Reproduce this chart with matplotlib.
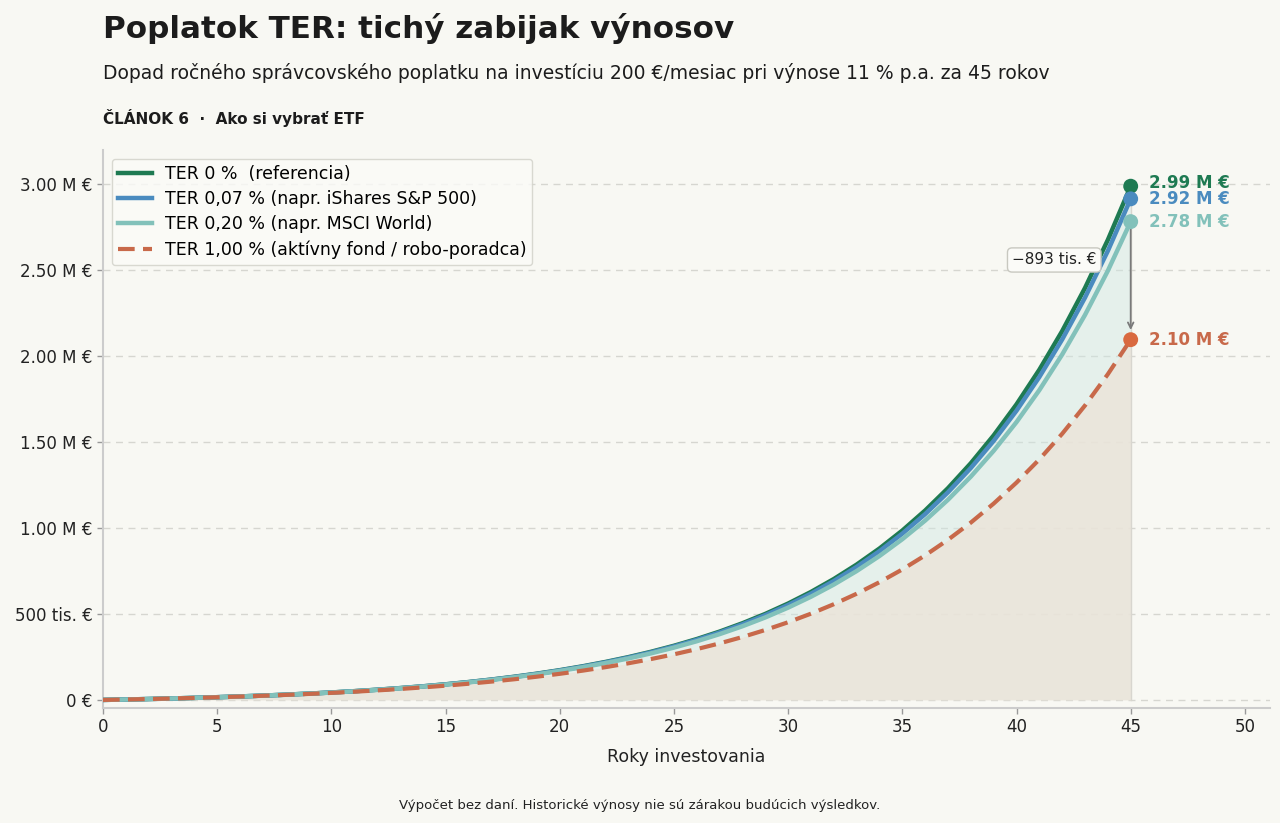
import matplotlib.pyplot as plt
from matplotlib.ticker import FuncFormatter

# hodnoty portfolia (tis. EUR) pre roky 0..45, odčítané z grafu
years = list(range(46))

ter_0 = [0, 2.5, 5.3, 8.5, 12.0, 15.9, 20.3, 25.1, 30.6, 36.6, 43.4,
         51.0, 59.4, 68.8, 79.2, 90.9, 104.0, 118.5, 134.8, 152.9, 173.1,
         195.7, 220.9, 248.9, 280.3, 315.2, 354.2, 397.7, 446.3, 500.5, 560.9,
         628.3, 703.5, 787.5, 881.1, 985.6, 1102.2, 1232.2, 1377.3, 1539.2, 1719.9,
         1921.4, 2146.3, 2397.2, 2677.1, 2989.3]
ter_007 = [0, 2.5, 5.3, 8.5, 12.0, 15.9, 20.2, 25.1, 30.5, 36.5, 43.2,
           50.7, 59.1, 68.4, 78.8, 90.4, 103.3, 117.7, 133.7, 151.6, 171.5,
           193.8, 218.6, 246.2, 277.0, 311.4, 349.7, 392.5, 440.1, 493.2, 552.4,
           618.4, 692.0, 774.1, 865.6, 967.6, 1081.4, 1208.2, 1349.6, 1507.3, 1683.0,
           1879.0, 2097.5, 2341.2, 2612.8, 2915.8]
ter_020 = [0, 2.5, 5.3, 8.5, 11.9, 15.8, 20.1, 24.9, 30.3, 36.3, 42.9,
           50.3, 58.5, 67.7, 77.9, 89.3, 101.9, 116.0, 131.7, 149.2, 168.6,
           190.3, 214.4, 241.3, 271.2, 304.5, 341.6, 382.9, 428.8, 480.0, 537.1,
           600.5, 671.2, 749.9, 837.6, 935.2, 1043.8, 1164.8, 1299.6, 1449.6, 1616.7,
           1802.7, 2009.9, 2240.4, 2497.4, 2783.3]
ter_100 = [0, 2.5, 5.3, 8.4, 11.7, 15.5, 19.6, 24.2, 29.2, 34.8, 41.0,
           47.8, 55.3, 63.6, 72.8, 82.9, 94.1, 106.5, 120.1, 135.2, 151.9,
           170.3, 190.6, 213.1, 237.9, 265.4, 295.7, 329.1, 366.1, 407.0, 452.1,
           501.9, 557.0, 617.9, 685.1, 759.3, 841.3, 931.9, 1032.0, 1142.6, 1264.7,
           1399.7, 1548.8, 1713.5, 1895.4, 2096.3]

labels = ['TER 0 %  (referencia)',
          'TER 0,07 % (napr. iShares S&P 500)',
          'TER 0,20 % (napr. MSCI World)',
          'TER 1,00 % (aktívny fond / robo-poradca)']
end_labels = ['2.99 M €', '2.92 M €', '2.78 M €', '2.10 M €']
gap_label = '−893 tis. €'

bg = '#f8f8f3'
c_green = '#1e7a52'
c_blue = '#4a8bbf'
c_teal = '#82c1ba'
c_orange = '#c8694a'
c_dot_orange = '#d9693f'

series = [[v * 1000 for v in s] for s in (ter_0, ter_007, ter_020, ter_100)]

fig = plt.figure(figsize=(12.8, 8.23), dpi=100, facecolor=bg)
ax = fig.add_axes([103 / 1280, 1 - 708 / 823, (1270 - 103) / 1280, (708 - 150) / 823])
ax.set_facecolor(bg)

# plochy
ax.fill_between(years, 0, series[3], color='#e9e4da', alpha=0.9, lw=0, zorder=1)
ax.fill_between(years, series[3], series[0], color='#cfe7e2', alpha=0.45, lw=0, zorder=1)

ax.plot(years, series[0], color=c_green, lw=3.2, label=labels[0], zorder=4)
ax.plot(years, series[1], color=c_blue, lw=3.2, label=labels[1], zorder=4)
ax.plot(years, series[2], color=c_teal, lw=3.2, label=labels[2], zorder=4)
ax.plot(years, series[3], color=c_orange, lw=3.0, ls=(0, (4, 2)), label=labels[3], zorder=5)

# koncové body
x_end = years[-1]
ax.plot([x_end, x_end], [0, series[0][-1]], color='#d8d6cf', lw=1, zorder=2)
dot_cols = [c_green, c_blue, c_teal, c_dot_orange]
txt_cols = [c_green, c_blue, c_teal, c_orange]
nudge = [20000, 0, 0, 0]
for s, dc, tc, lab, dy in zip(series, dot_cols, txt_cols, end_labels, nudge):
    ax.scatter([x_end], [s[-1]], s=115, color=dc, zorder=6, edgecolor='none')
    ax.text(x_end + 0.8, s[-1] + dy, lab, color=tc, fontsize=12, fontweight='bold',
            va='center', ha='left', zorder=6)

ax.annotate('', xy=(x_end, series[3][-1] + 40000), xytext=(x_end, series[2][-1]),
            arrowprops=dict(arrowstyle='->', color='#7a7a7a', lw=1.3), zorder=3)
ax.text(43.5, 2.56e6, gap_label, fontsize=11, ha='right', va='center', color='#222222',
        bbox=dict(boxstyle='round,pad=0.3', fc='#fbfbf8', ec='#c8c8c0', lw=1), zorder=7)

def fmt(v, pos):
    if v == 0:
        return '0 €'
    if v < 1e6:
        return f'{v / 1000:.0f} tis. €'
    return f'{v / 1e6:.2f} M €'

ax.set_xlim(0, 51.1)
ax.set_ylim(-47000, 3.2e6)
ax.set_xticks(range(0, 51, 5))
ax.set_yticks([0, 0.5e6, 1e6, 1.5e6, 2e6, 2.5e6, 3e6])
ax.yaxis.set_major_formatter(FuncFormatter(fmt))
ax.tick_params(labelsize=12, colors='#222222', length=4, width=1)
ax.tick_params(color='#999999')
ax.grid(axis='y', ls=(0, (5, 4)), color='#d6d6d0', lw=1)
ax.set_axisbelow(True)
for sp in ('top', 'right'):
    ax.spines[sp].set_visible(False)
for sp in ('left', 'bottom'):
    ax.spines[sp].set_color('#cccccc')
    ax.spines[sp].set_linewidth(1.5)
ax.set_xlabel('Roky investovania', fontsize=12.5, color='#222222', labelpad=8)

leg = ax.legend(loc='upper left', fontsize=12.5, frameon=True, facecolor='#fbfbf8',
                edgecolor='#d0d0c8', handlelength=2.0, handletextpad=0.7, borderpad=0.35,
                labelspacing=0.42, borderaxespad=0.5)

fig.text(103 / 1280, 1 - 28 / 823, 'Poplatok TER: tichý zabijak výnosov', fontsize=22.3,
         fontweight='bold', color='#1c1c1c', va='center', ha='left')
fig.text(103 / 1280, 1 - 73 / 823,
         'Dopad ročného správcovského poplatku na investíciu 200 €/mesiac pri výnose 11 % p.a. za 45 rokov',
         fontsize=13.5, color='#1c1c1c', va='center', ha='left')
fig.text(103 / 1280, 1 - 118 / 823, 'ČLÁNOK 6  ·  Ako si vybrať ETF', fontsize=11,
         fontweight='bold', color='#1c1c1c', va='center', ha='left')
fig.text(640 / 1280, 1 - 806 / 823,
         'Výpočet bez daní. Historické výnosy nie sú zárakou budúcich výsledkov.',
         fontsize=9.5, color='#222222', va='center', ha='center')

fig.savefig('out.png', dpi=100, facecolor=bg)
